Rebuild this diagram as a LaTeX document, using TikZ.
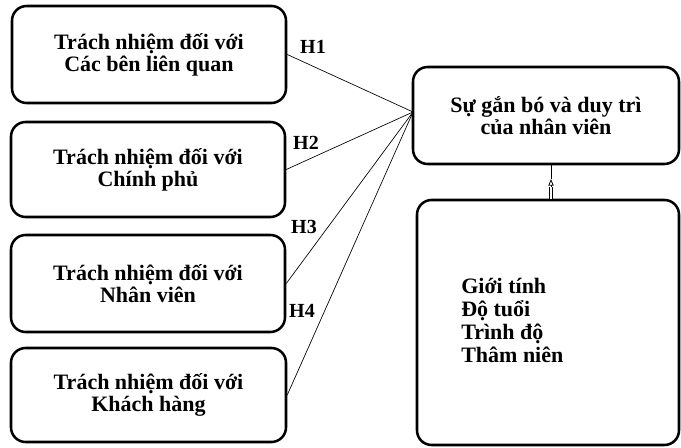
\documentclass[tikz,border=0pt]{standalone}
\usepackage{fontspec}
\setmainfont{Liberation Serif}
\usetikzlibrary{arrows.meta}
\begin{document}
\begin{tikzpicture}[x=0.75pt,y=-0.75pt,
  box/.style={draw, line width=1.9pt, rounded corners=11pt, inner sep=0pt, align=center,
    font=\fontsize{16.5}{16.5}\selectfont\bfseries},
  conn/.style={line width=0.5pt},
  hlab/.style={font=\fontsize{15}{16}\selectfont\bfseries, inner sep=0pt},
  lst/.style={font=\fontsize{16.5}{17.25}\selectfont\bfseries, align=left, inner sep=0pt, anchor=west}]
\useasboundingbox (0,0) rectangle (681,448);
\node[box, minimum width=205.5pt, minimum height=72.75pt] (b1) at (149,54.5) {Trách nhiệm đối với\\Các bên liên quan};
\node[box, minimum width=205.5pt, minimum height=71.25pt] (b2) at (148,169.5) {Trách nhiệm đối với\\Chính phủ};
\node[box, minimum width=205.5pt, minimum height=72.75pt] (b3) at (148,283.5) {Trách nhiệm đối với\\Nhân viên};
\node[box, minimum width=206.25pt, minimum height=70.5pt] (b4) at (148.5,395) {Trách nhiệm đối với\\Khách hàng};
\node[box, minimum width=199.5pt, minimum height=72.75pt] (tr) at (546,115.5) {Sự gắn bó và duy trì\\của nhân viên};
\node[box, minimum width=196.5pt, minimum height=183.75pt] (br) at (548,322.5) {};
\node[lst] (ctrl) at (461,320) {Giới tính\\Độ tuổi\\Trình độ\\Thâm niên};
\coordinate (conv) at (413,112);
\draw[conn] (b1.east) -- (conv);
\draw[conn] (b2.east) -- (conv);
\draw[conn] (b3.east) -- (conv);
\draw[conn] (b4.east) -- (conv);
\node[hlab] (h1) at (313,47) {H1};
\node[hlab] (h2) at (306,143) {H2};
\node[hlab] (h3) at (304,227) {H3};
\node[hlab] (h4) at (302,311) {H4};
\coordinate (ab) at (551,187);
\coordinate (at) at (551,165);
\draw[double, line width=0.6pt, double distance=1.4pt] (br.north -| ab) -- (ab);
\draw[line width=0.6pt, -{Triangle[open,length=5pt,width=4pt]}] (ab) -- (551,179);
\draw[line width=0.6pt] (551,179) -- (tr.south -| at);
\end{tikzpicture}
\end{document}
